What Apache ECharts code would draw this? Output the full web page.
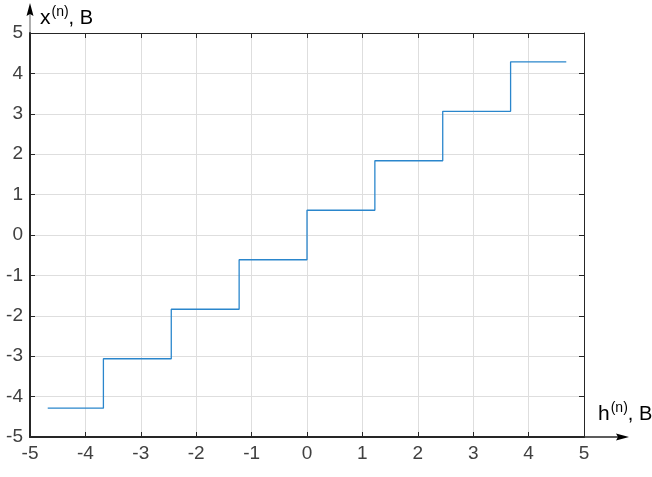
<!DOCTYPE html>
<html><head><meta charset="utf-8">
<script src="https://cdn.jsdelivr.net/npm/echarts@6/dist/echarts.min.js"></script>
<style>html,body{margin:0;padding:0;background:#fff}#c{width:652px;height:477px}</style>
</head><body><div id="c"></div>
<script>
// Quantizer staircase: input edges (h) and output levels (x)
const hEdges = [-4.68, -3.675, -2.45, -1.225, 0, 1.225, 2.45, 3.675, 4.68];
const xLevels = [-4.2875, -3.0625, -1.8375, -0.6125, 0.6125, 1.8375, 3.0625, 4.2875, 4.2875];
const ticks = [-5, -4, -3, -2, -1, 0, 1, 2, 3, 4, 5];
const xName = 'h';
const yName = 'x';

const data = hEdges.map((h, i) => [h, xLevels[i]]);
const font = 'Arial, "Liberation Sans", sans-serif';
const axisCol = '#262626';
const labelCol = '#404040';

const chart = echarts.init(document.getElementById('c'), null, {renderer: 'canvas'});
function axis(pos, main) {
  return {
    type: 'value', min: ticks[0], max: ticks[ticks.length - 1], interval: 1, position: pos,
    axisLine: {show: true, onZero: false, lineStyle: {color: axisCol, width: main ? 2 : 1}},
    axisTick: {show: true, inside: true, length: 5, lineStyle: {color: axisCol, width: 1}},
    axisLabel: {show: main, fontSize: 19, color: labelCol, fontFamily: font, margin: main ? 7 : 0},
    splitLine: {show: main, lineStyle: {color: '#dedede', width: 1}}
  };
}
chart.setOption({
  animation: false,
  grid: {left: 30, top: 33, right: 68, bottom: 40, containLabel: false},
  xAxis: [axis('bottom', true), axis('top', false)],
  yAxis: [axis('left', true), axis('right', false)],
  series: [{
    type: 'line', step: 'end', data: data, showSymbol: false, symbol: 'none',
    xAxisIndex: 0, yAxisIndex: 0,
    lineStyle: {color: '#2a86cc', width: 1.3}
  }]
});

const tl = chart.convertToPixel({xAxisIndex: 0, yAxisIndex: 0}, [ticks[0], ticks[ticks.length - 1]]);
const br = chart.convertToPixel({xAxisIndex: 0, yAxisIndex: 0}, [ticks[ticks.length - 1], ticks[0]]);
const rich = {
  v: {fontSize: 21, fontFamily: font, color: '#111', verticalAlign: 'bottom'},
  s: {fontSize: 14, fontFamily: font, color: '#111', verticalAlign: 'bottom', padding: [0, 0, 10, 1]},
  b: {fontSize: 20, fontFamily: font, color: '#111', verticalAlign: 'bottom', padding: [0, 0, 1, 0]}
};
chart.setOption({
  graphic: [
    {type: 'line', shape: {x1: tl[0], y1: tl[1], x2: tl[0], y2: tl[1] - 22}, style: {stroke: '#777', lineWidth: 1.2}},
    {type: 'polygon', shape: {points: [[tl[0], tl[1] - 30], [tl[0] - 3.5, tl[1] - 17], [tl[0], tl[1] - 19], [tl[0] + 3.5, tl[1] - 17]]}, style: {fill: '#000'}},
    {type: 'line', shape: {x1: br[0], y1: br[1], x2: br[0] + 38, y2: br[1]}, style: {stroke: axisCol, lineWidth: 1.3}},
    {type: 'polygon', shape: {points: [[br[0] + 45, br[1]], [br[0] + 32, br[1] - 3.5], [br[0] + 34, br[1]], [br[0] + 32, br[1] + 3.5]]}, style: {fill: '#000'}},
    {type: 'text', left: tl[0] + 10, top: tl[1] - 28, style: {text: '{v|' + yName + '}{s|(n)}{b|, B}', rich: rich}},
    {type: 'text', left: br[0] + 14, top: br[1] - 36, style: {text: '{v|' + xName + '}{s|(n)}{b|, B}', rich: rich}}
  ]
});
</script></body></html>
